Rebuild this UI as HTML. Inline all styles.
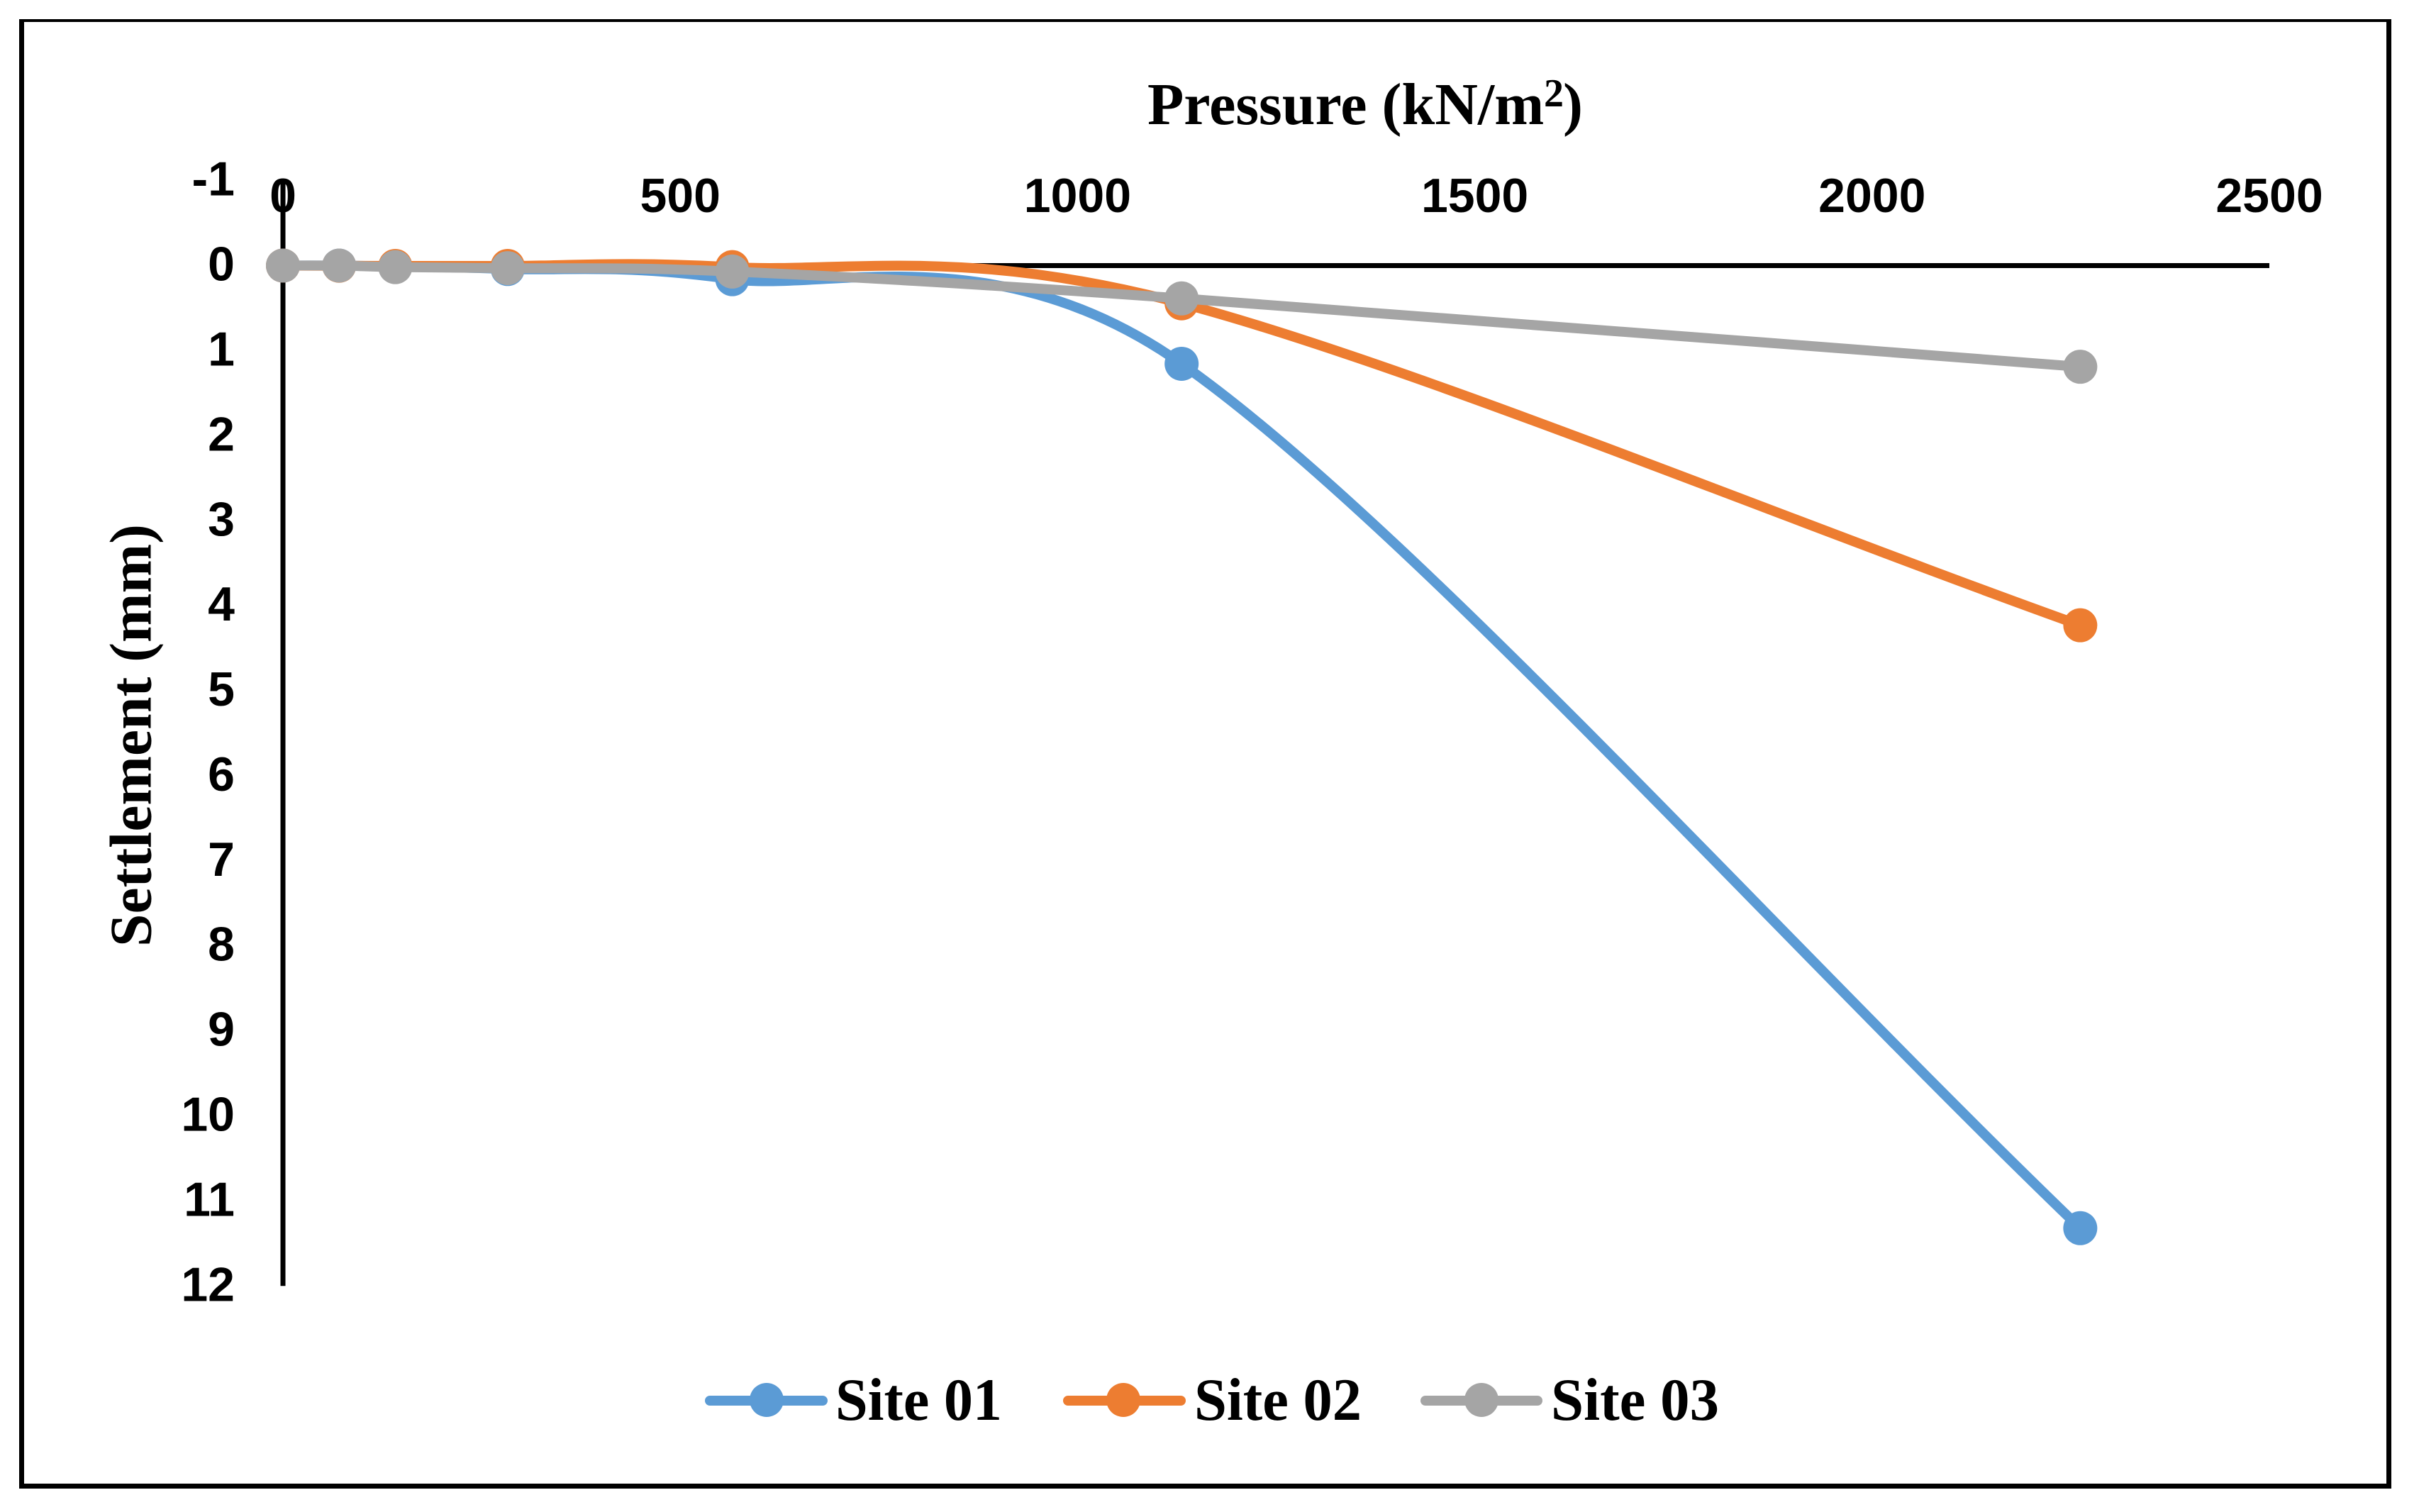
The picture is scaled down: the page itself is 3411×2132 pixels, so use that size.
<!DOCTYPE html>
<html lang="en">
<head>
<meta charset="utf-8">
<title>Settlement vs Pressure</title>
<style>
html,body{margin:0;padding:0;background:#fff;}
svg{display:block;}
.tick{font-family:"Liberation Sans",sans-serif;font-weight:700;font-size:68px;fill:#000;}
.serif{font-family:"Liberation Serif",serif;font-weight:700;fill:#000;}
</style>
</head>
<body>
<svg id="chart" xmlns="http://www.w3.org/2000/svg" width="3411" height="2132" viewBox="0 0 3411 2132">
  <rect x="0" y="0" width="3411" height="2132" fill="#ffffff"/>
  <g fill="#000">
    <rect x="27" y="27" width="7" height="2072"/>
    <rect x="3365" y="27" width="7" height="2072"/>
    <rect x="27" y="27" width="3345" height="4"/>
    <rect x="27" y="2092" width="3345" height="7"/>
  </g>
  <g id="axes"></g>
  <g id="series"></g>
  <g id="ticks"></g>
  <text class="serif" font-size="84" y="175"><tspan x="1618">Pressure (kN/m</tspan><tspan x="2177" y="150" font-size="56">2</tspan><tspan x="2204" y="175">)</tspan></text>
  <text class="serif" font-size="84" transform="translate(212.7 1335) rotate(-90)" x="0" y="0" textLength="596" lengthAdjust="spacingAndGlyphs">Settlement (mm)</text>
  <g>
    <g>
      <line x1="1001" y1="1975" x2="1160" y2="1975" stroke="#5B9BD5" stroke-width="14" stroke-linecap="round"/>
      <circle cx="1081" cy="1974" r="24" fill="#5B9BD5"/>
      <text class="serif" font-size="85" x="1178" y="2002" textLength="235" lengthAdjust="spacingAndGlyphs">Site 01</text>
    </g>
    <g>
      <line x1="1506" y1="1975" x2="1665" y2="1975" stroke="#ED7D31" stroke-width="14" stroke-linecap="round"/>
      <circle cx="1584" cy="1974" r="24" fill="#ED7D31"/>
      <text class="serif" font-size="85" x="1684" y="2002" textLength="236" lengthAdjust="spacingAndGlyphs">Site 02</text>
    </g>
    <g>
      <line x1="2010" y1="1975" x2="2168" y2="1975" stroke="#A5A5A5" stroke-width="14" stroke-linecap="round"/>
      <circle cx="2089" cy="1974" r="24" fill="#A5A5A5"/>
      <text class="serif" font-size="85" x="2187" y="2002" textLength="237" lengthAdjust="spacingAndGlyphs">Site 03</text>
    </g>
  </g>
</svg>
<script>
const pressure = [0, 70.7, 141.4, 282.8, 565.5, 1131, 2262];
const site01 = [0, 0, 0.01, 0.04, 0.16, 1.155, 11.32];
const site02 = [0, 0.002, 0.004, 0.004, 0.018, 0.444, 4.23];
const site03 = [0, 0, 0.018, 0.03, 0.07, 0.386, 1.19];
const xTickValues = [0, 500, 1000, 1500, 2000, 2500];
const yTickValues = [-1, 0, 1, 2, 3, 4, 5, 6, 7, 8, 9, 10, 11, 12];

const SVG_NS = 'http://www.w3.org/2000/svg';
const X0 = 399, X_PER_UNIT = 2801 / 2500;
const Y0 = 374.5, Y_PER_UNIT = 119.9;
function xScale(v) { return X0 + v * X_PER_UNIT; }
function yScale(v) { return Y0 + v * Y_PER_UNIT; }

function make(tag, attrs, parent) {
  const el = document.createElementNS(SVG_NS, tag);
  for (const k in attrs) el.setAttribute(k, attrs[k]);
  parent.appendChild(el);
  return el;
}

/* Spreadsheet-style smoothed line: cubic segments with clamped control handles */
function smoothPath(pts) {
  const dist = (a, b) => Math.hypot(a[0] - b[0], a[1] - b[1]);
  let d = 'M' + pts[0][0] + ' ' + pts[0][1];
  const n = pts.length;
  for (let i = 0; i < n - 1; i++) {
    const p0 = pts[i - 1] || pts[i];
    const p1 = pts[i];
    const p2 = pts[i + 1];
    const p3 = pts[i + 2] || pts[i + 1];
    const d02 = dist(p0, p2), d12 = dist(p1, p2), d13 = dist(p1, p3);
    let f, g;
    const a = d02 / 6 < d12 / 2, b = d13 / 6 < d12 / 2;
    if (a && b) {
      f = i === 0 ? 1 / 3 : 1 / 6;
      g = i === n - 2 ? 1 / 3 : 1 / 6;
    } else if (!a && !b) {
      f = d12 / 2 / d02;
      g = d12 / 2 / d13;
    } else if (!a) {
      f = d12 / 2 / d02;
      g = d12 / 2 / d02;
    } else {
      f = d12 / 2 / d13;
      g = d12 / 2 / d13;
    }
    const c1x = p1[0] + (p2[0] - p0[0]) * f, c1y = p1[1] + (p2[1] - p0[1]) * f;
    const c2x = p2[0] - (p3[0] - p1[0]) * g, c2y = p2[1] - (p3[1] - p1[1]) * g;
    d += 'C' + c1x.toFixed(2) + ' ' + c1y.toFixed(2) + ' ' + c2x.toFixed(2) + ' ' + c2y.toFixed(2) + ' ' + p2[0].toFixed(2) + ' ' + p2[1].toFixed(2);
  }
  return d;
}

const axes = document.getElementById('axes');
const seriesLayer = document.getElementById('series');
const ticks = document.getElementById('ticks');

const yAxisLine = make('line', {
  x1: xScale(0), x2: xScale(0),
  y1: yScale(yTickValues[0]), y2: yScale(yTickValues[yTickValues.length - 1]),
  stroke: '#000', 'stroke-width': 7
}, axes);



const xAxisLine = make('line', {
  x1: xScale(xTickValues[0]), x2: xScale(xTickValues[xTickValues.length - 1]),
  y1: yScale(0), y2: yScale(0),
  stroke: '#000', 'stroke-width': 7
}, axes);



function drawSeries(values, color, key) {
  const pts = pressure.map((p, i) => [xScale(p), yScale(values[i])]);
  const group = make('g', {}, seriesLayer);
  
  
  const line = make('path', {
    d: smoothPath(pts), fill: 'none', stroke: color,
    'stroke-width': 14, 'stroke-linecap': 'round', 'stroke-linejoin': 'round'
  }, group);
  
  
  pts.forEach(function (pt, i) {
    const dot = make('circle', { cx: pt[0], cy: pt[1], r: 24, fill: color }, group);
    
    
  });
}
drawSeries(site01, '#5B9BD5', 'site-01');
drawSeries(site02, '#ED7D31', 'site-02');
drawSeries(site03, '#A5A5A5', 'site-03');

xTickValues.forEach(function (v) {
  const t = make('text', { x: xScale(v), y: 299, 'text-anchor': 'middle', class: 'tick' }, ticks);
  t.textContent = String(v);
  
  
});
yTickValues.forEach(function (v) {
  const t = make('text', { x: 331, y: yScale(v) + 21, 'text-anchor': 'end', class: 'tick' }, ticks);
  t.textContent = String(v);
  
  
});
</script>
</body>
</html>
